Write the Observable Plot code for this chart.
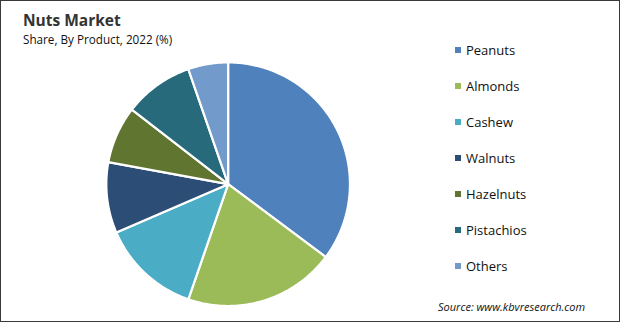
<!DOCTYPE html>
<html>
<head>
<meta charset="utf-8">
<script src="https://cdn.jsdelivr.net/npm/d3@7"></script>
<script src="https://cdn.jsdelivr.net/npm/@observablehq/plot@0.6"></script>
<style>
  html, body { margin: 0; padding: 0; background: #fff; }
  #wrap { position: relative; width: 620px; height: 322px; box-sizing: border-box; border: 1px solid #3a3a3a; overflow: hidden; font-family: "Open Sans", sans-serif; color: #222; }
  #chart { position: absolute; left: -1px; top: -1px; }
  .title { position: absolute; left: 22px; top: 8px; font-size: 15.5px; font-weight: 700; color: #333; }
  .subtitle { position: absolute; left: 22px; top: 30px; font-size: 11.7px; color: #111; }
  .legend { position: absolute; left: 454px; top: 39px; }
  .item { position: absolute; left: 0; height: 20px; white-space: nowrap; font-size: 13px; color: #111; }
  .sw { position: absolute; left: 0; top: 7px; width: 6px; height: 6px; }
  .lbl { position: absolute; left: 11px; top: 0; line-height: 20px; }
  .source { position: absolute; left: 437px; top: 298px; font-size: 11px; font-style: italic; color: #111; }
</style>
</head>
<body>
<div id="wrap">
  <div id="chart"></div>
  <div class="title">Nuts Market</div>
  <div class="subtitle">Share, By Product, 2022 (%)</div>
  <div class="legend" id="legend"></div>
  <div class="source">Source: www.kbvresearch.com</div>
</div>
<script>
const products = ["Peanuts", "Almonds", "Cashew", "Walnuts", "Hazelnuts", "Pistachios", "Others"];
const shares = [35.2, 20.1, 13.2, 9.4, 7.6, 9.2, 5.3];
const colors = ["#4f81bd", "#9bbb59", "#4bacc6", "#2c4d75", "#5f7530", "#276a7c", "#729aca"];

// pie geometry (angles clockwise from 12 o'clock), in unit-circle data space
const total = d3.sum(shares);
const pts = [];
let acc = 0;
products.forEach((p, i) => {
  const a0 = acc / total * 2 * Math.PI;
  acc += shares[i];
  const a1 = acc / total * 2 * Math.PI;
  pts.push({product: p, x: 0, y: 0});
  const n = Math.max(2, Math.ceil((a1 - a0) / 0.01));
  for (let k = 0; k <= n; k++) {
    const a = a0 + (a1 - a0) * k / n;
    pts.push({product: p, x: Math.sin(a), y: Math.cos(a)});
  }
  pts.push({product: p, x: 0, y: 0});
});

const cx = 228, cy = 184, r = 122;
const chart = Plot.plot({
  width: 620,
  height: 322,
  margin: 0,
  x: {domain: [-1, 1], range: [cx - r, cx + r], axis: null},
  y: {domain: [-1, 1], range: [cy + r, cy - r], axis: null},
  color: {domain: products, range: colors},
  marks: [
    Plot.line(pts, {x: "x", y: "y", z: "product", fill: "product", stroke: "white", strokeWidth: 2.2, strokeLinejoin: "round", curve: "linear"})
  ]
});
document.getElementById("chart").appendChild(chart);

const legend = document.getElementById("legend");
products.forEach((p, i) => {
  const d = document.createElement("div");
  d.className = "item";
  d.style.top = (i * 36) + "px";
  d.innerHTML = `<span class="sw" style="background:${colors[i]}"></span><span class="lbl">${p}</span>`;
  legend.appendChild(d);
});
</script>
</body>
</html>
